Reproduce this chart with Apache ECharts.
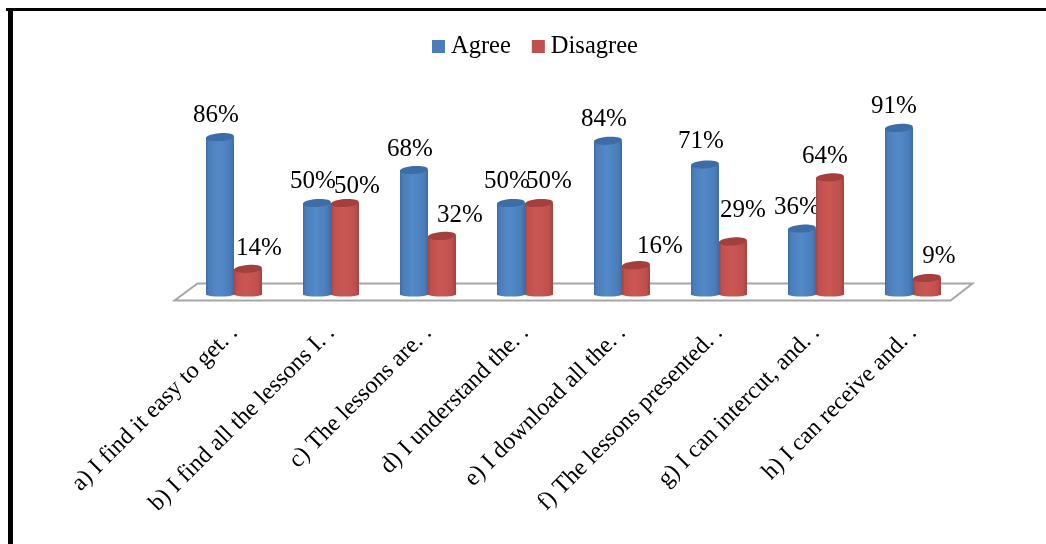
<!DOCTYPE html>
<html>
<head>
<meta charset="utf-8">
<style>html,body{margin:0;padding:0;background:#fff}#chart{width:1046px;height:544px}</style>
<script src="https://cdn.jsdelivr.net/npm/echarts@6/dist/echarts.min.js"></script>
</head>
<body>
<div id="chart"></div>
<script>
// Survey answers per statement, in percent
const categories = [
  'a) I find it easy to get. .',
  'b) I find all the lessons I. .',
  'c) The lessons are. .',
  'd) I understand the. .',
  'e) I download all the. .',
  'f) The lessons presented. .',
  'g) I can intercut, and. .',
  'h) I can receive and. .'
];
const agree = [86, 50, 68, 50, 84, 71, 36, 91];
const disagree = [14, 50, 32, 50, 16, 29, 64, 9];

// Hand placement of the value labels relative to each cylinder top: [dx, dy]
const agreeLabelShift = [[-4,-22],[-4,-22],[-4,-21],[-4,-22],[-4,-21],[-4,-23],[-5,-21],[-5,-22]];
const disagreeLabelShift = [[11,-20],[12,-17],[18,-21],[10,-22],[24,-19],[10,-31],[-5,-21],[12,-22]];

const FONT = '"Liberation Serif", "Times New Roman", serif';
const CYL_W = 28;
const CYL_RY = 4;

function cylinderSeries(name, values, shifts, side, main, light, dark, capColor) {
  return {
    name,
    type: 'custom',
    coordinateSystem: 'cartesian2d',
    encode: { x: 0, y: 1 },
    itemStyle: { color: main },
    z: 3,
    data: values.map((v, i) => [i, v]),
    renderItem(params, api) {
      const idx = api.value(0), val = api.value(1);
      const top = api.coord([idx, val]);
      const base = api.coord([idx, 0]);
      const cx = top[0] + side * CYL_W / 2;
      const l = cx - CYL_W / 2, r = cx + CYL_W / 2;
      const fill = new echarts.graphic.LinearGradient(0, 0, 1, 0, [
        { offset: 0, color: dark },
        { offset: 0.1, color: main },
        { offset: 0.45, color: light },
        { offset: 0.85, color: main },
        { offset: 1, color: dark }
      ]);
      const shift = shifts[idx];
      return {
        type: 'group',
        children: [
          {
            type: 'path',
            shape: {
              pathData: `M${l} ${top[1]}L${l} ${base[1]}A${CYL_W / 2} 2 0 0 0 ${r} ${base[1]}L${r} ${top[1]}Z`
            },
            style: { fill }
          },
          {
            type: 'ellipse',
            shape: { cx, cy: top[1], rx: CYL_W / 2, ry: CYL_RY },
            rotation: 0.07,
            originX: cx,
            originY: top[1],
            style: { fill: capColor }
          },
          {
            type: 'text',
            style: {
              text: val + '%',
              x: cx + shift[0],
              y: top[1] + shift[1],
              align: 'center',
              verticalAlign: 'middle',
              font: '25px ' + FONT,
              fill: '#000'
            }
          }
        ]
      };
    }
  };
}

// Floor plate under the cylinders, anchored to the first and last category
const floorSeries = {
  type: 'custom',
  coordinateSystem: 'cartesian2d',
  encode: { x: 0, y: 1 },
  silent: true,
  z: 1,
  legendHoverLink: false,
  data: [[0, 0]],
  renderItem(params, api) {
    const band = api.size([1, 0])[0];
    const first = api.coord([0, 0]);
    const last = api.coord([categories.length - 1, 0]);
    const x0 = first[0] - band / 2, x1 = last[0] + band / 2;
    const y = first[1];
    return {
      type: 'polygon',
      shape: { points: [[x0 - 11, y + 6], [x0 + 12, y - 11], [x1 + 11, y - 11], [x1 - 11, y + 6]] },
      style: { fill: '#fff', stroke: '#a6a6a6', lineWidth: 2 }
    };
  }
};

const chart = echarts.init(document.getElementById('chart'), null, { renderer: 'canvas' });
chart.setOption({
  animation: false,
  backgroundColor: '#fff',
  legend: {
    top: 29,
    left: 427,
    itemWidth: 13,
    itemHeight: 13,
    itemGap: 21,
    icon: 'rect',
    selectedMode: false,
    textStyle: { fontFamily: FONT, fontSize: 24.5, color: '#000', padding: [0, 0, 0, 1] },
    data: ['Agree', 'Disagree']
  },
  grid: { left: 185.5, width: 776, top: 111.5, height: 183 },
  xAxis: {
    type: 'category',
    data: categories,
    axisLine: { show: false },
    axisTick: { show: false },
    axisLabel: {
      interval: 0,
      rotate: 45,
      margin: 35,
      fontFamily: FONT,
      fontSize: 24,
      color: '#000'
    }
  },
  yAxis: { type: 'value', min: 0, max: 100, show: false },
  series: [
    floorSeries,
    cylinderSeries('Agree', agree, agreeLabelShift, -1, '#4a7ebb', '#5489c8', '#3f6ca3', '#3d6da6'),
    cylinderSeries('Disagree', disagree, disagreeLabelShift, 1, '#c0504d', '#cb5753', '#a24441', '#a43f3d')
  ],
  graphic: [
    { type: 'rect', silent: true, shape: { x: 6, y: 8, width: 1040, height: 3 }, style: { fill: '#000' } },
    { type: 'rect', silent: true, shape: { x: 8, y: 8, width: 5, height: 536 }, style: { fill: '#000' } }
  ]
});
</script>
</body>
</html>
